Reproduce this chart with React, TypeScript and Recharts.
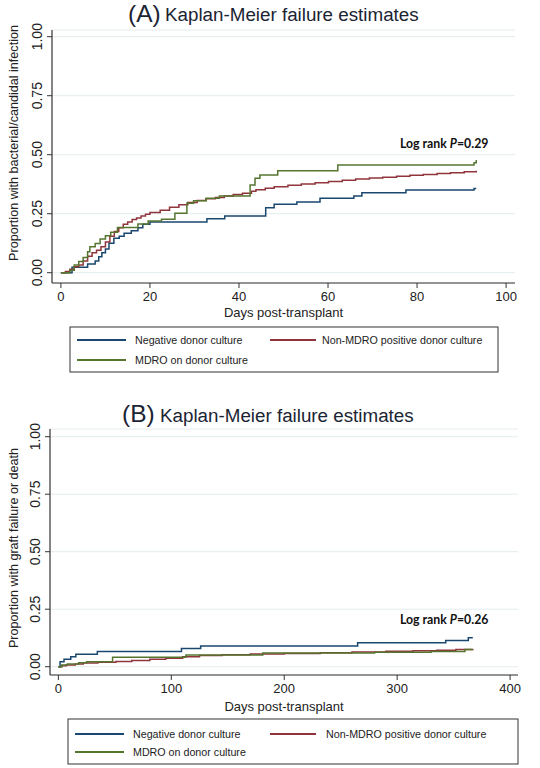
import React from 'react';
import { LineChart, Line, XAxis, YAxis, CartesianGrid } from 'recharts';

// ---------- Panel A: bacterial/candidal infection (days 0-93) ----------
const negDaysA = [0, 2.5, 6, 7.7, 8.5, 9.2, 10, 10.8, 11.9, 13.1, 14.2, 15.8, 17.3, 18.4, 20, 32.8, 36.8, 46, 47.9, 53, 58.2, 65.8, 67.6, 77.5, 92.8, 93.3];
const negValsA = [0, 0.023, 0.037, 0.05, 0.068, 0.085, 0.1, 0.125, 0.146, 0.155, 0.167, 0.178, 0.19, 0.205, 0.215, 0.229, 0.24, 0.275, 0.29, 0.3, 0.315, 0.325, 0.339, 0.35, 0.357, 0.357];

const nonDaysA = [0, 1, 2, 3, 4, 5, 6, 7, 8, 9, 10, 11, 12, 13, 14, 15, 16, 17, 18, 19, 20, 22.3, 24.4, 26.5, 28.5, 30.6, 32.6, 34.7, 36.7, 38.7, 40.8, 42.8, 43.8, 45.9, 47.9, 51, 54, 57.1, 60.1, 63.2, 66.2, 69.3, 72.3, 75.4, 78.4, 81.4, 84.5, 87.5, 90.6, 93.3];
const nonValsA = [0, 0.005, 0.015, 0.025, 0.033, 0.05, 0.07, 0.085, 0.095, 0.11, 0.13, 0.155, 0.175, 0.19, 0.205, 0.215, 0.225, 0.232, 0.24, 0.248, 0.255, 0.265, 0.277, 0.288, 0.298, 0.306, 0.313, 0.319, 0.325, 0.331, 0.337, 0.345, 0.352, 0.358, 0.364, 0.371, 0.376, 0.381, 0.386, 0.392, 0.397, 0.401, 0.405, 0.409, 0.413, 0.416, 0.42, 0.424, 0.428, 0.432];

const mdroDaysA = [0, 2, 3, 4, 5, 6, 6.5, 7.7, 8.8, 10, 11.2, 12.7, 17.3, 19.6, 22.6, 25.6, 28.3, 29.8, 32.6, 35.6, 42.5, 43.6, 44.7, 48.7, 62.2, 92.8, 93.3];
const mdroValsA = [0, 0.01, 0.033, 0.047, 0.064, 0.089, 0.11, 0.124, 0.143, 0.157, 0.171, 0.192, 0.206, 0.219, 0.227, 0.252, 0.294, 0.305, 0.315, 0.325, 0.372, 0.4, 0.414, 0.432, 0.456, 0.466, 0.478];

// ---------- Panel B: graft failure or death (days 0-367) ----------
const negDaysB = [0, 1.5, 5, 11, 15.5, 34.5, 109, 126, 265, 343, 363, 367];
const negValsB = [0, 0.022, 0.032, 0.043, 0.054, 0.066, 0.079, 0.09, 0.104, 0.114, 0.126, 0.126];

const nonDaysB = [0, 3, 7, 15, 22, 35, 51, 65, 81, 95, 110, 125, 145, 170, 200, 232, 260, 290, 314, 335, 352, 367];
const nonValsB = [0, 0.004, 0.008, 0.012, 0.016, 0.019, 0.023, 0.027, 0.032, 0.037, 0.043, 0.049, 0.052, 0.055, 0.058, 0.061, 0.064, 0.067, 0.069, 0.072, 0.075, 0.077];

const mdroDaysB = [0, 3, 8, 18, 25, 48, 113, 181, 280, 330, 360, 367];
const mdroValsB = [0, 0.007, 0.012, 0.017, 0.022, 0.041, 0.051, 0.06, 0.063, 0.066, 0.075, 0.075];

// ---------- Axis ticks & labels ----------
const yTicks = [0, 0.25, 0.5, 0.75, 1];
const xTicksA = [0, 20, 40, 60, 80, 100];
const xTicksB = [0, 100, 200, 300, 400];
const seriesNames = ['Negative donor culture', 'Non-MDRO positive donor culture', 'MDRO on donor culture'];
const colors = ['#1a476f', '#90353b', '#55752f'];

const toData = (t: number[], v: number[]) => t.map((d, i) => ({ day: d, p: v[i] }));

const FONT = '"Liberation Sans", Arial, Helvetica, sans-serif';
const AXIS = '#333';

const RotTick = (props: any) => {
  const { x, y, payload } = props;
  return (
    <text x={x} y={y} transform={`rotate(-90 ${x} ${y})`} textAnchor="middle" fontSize={14} fill="#222" fontFamily={FONT}>
      {Number(payload.value).toFixed(2)}
    </text>
  );
};

type PanelProps = {
  series: { t: number[]; v: number[] }[];
  width: number;
  height: number;
  margin: { top: number; right: number; bottom: number; left: number };
  yAxisWidth: number;
  xDomain: [number, number];
  yDomain: [number, number];
  xTicks: number[];
  labelOffset: number;
};

const Panel = ({ series, width, height, margin, yAxisWidth, xDomain, yDomain, xTicks, labelOffset }: PanelProps) => (
  <LineChart width={width} height={height} margin={margin}>
    <CartesianGrid horizontal vertical={false} stroke="#e4ecef" strokeWidth={1} />
    <XAxis
      type="number"
      dataKey="day"
      domain={xDomain}
      ticks={xTicks}
      allowDataOverflow
      height={40}
      tickSize={5}
      tickMargin={4}
      axisLine={{ stroke: AXIS, strokeWidth: 1.2 }}
      tickLine={{ stroke: AXIS, strokeWidth: 1 }}
      tick={{ fontSize: 13, fill: '#222', fontFamily: FONT }}
      label={{ value: 'Days post-transplant', position: 'insideBottom', offset: labelOffset, fontSize: 13, fill: '#222', fontFamily: FONT }}
    />
    <YAxis
      type="number"
      domain={yDomain}
      ticks={yTicks}
      allowDataOverflow
      width={yAxisWidth}
      tickSize={5}
      tickMargin={5}
      axisLine={{ stroke: AXIS, strokeWidth: 1.2 }}
      tickLine={{ stroke: AXIS, strokeWidth: 1 }}
      tick={<RotTick />}
    />
    {series.map((s, i) => (
      <Line
        key={i}
        data={toData(s.t, s.v)}
        dataKey="p"
        name={seriesNames[i]}
        type="stepAfter"
        stroke={colors[i]}
        strokeWidth={1.5}
        dot={false}
        isAnimationActive={false}
      />
    ))}
  </LineChart>
);

const LegendBox = ({ x, y, w, h, row1, row2, col2Line, col2Text }: any) => (
  <g fontFamily={FONT} fontSize={10.7} fill="#222">
    <rect x={x} y={y} width={w} height={h} fill="#fff" stroke="#333" strokeWidth={1} />
    <line x1={x + 7} x2={x + 56} y1={row1} y2={row1} stroke={colors[0]} strokeWidth={2} />
    <text x={x + 65} y={row1 + 4}>{seriesNames[0]}</text>
    <line x1={col2Line} x2={col2Line + 46} y1={row1} y2={row1} stroke={colors[1]} strokeWidth={2} />
    <text x={col2Text} y={row1 + 4}>{seriesNames[1]}</text>
    <line x1={x + 7} x2={x + 56} y1={row2} y2={row2} stroke={colors[2]} strokeWidth={2} />
    <text x={x + 65} y={row2 + 4}>{seriesNames[2]}</text>
  </g>
);

export default function App() {
  return (
    <div style={{ position: 'absolute', left: 0, top: 0, width: 540, height: 768, background: '#fff', fontFamily: FONT, overflow: 'hidden' }}>
      <div style={{ position: 'absolute', left: 0, top: 0 }}>
        <Panel
          series={[{ t: negDaysA, v: negValsA }, { t: nonDaysA, v: nonValsA }, { t: mdroDaysA, v: mdroValsA }]}
          width={540}
          height={323}
          margin={{ top: 30, right: 25, bottom: 0, left: 0 }}
          yAxisWidth={52}
          xDomain={[-2, 102]}
          yDomain={[-0.0436, 1.0284]}
          xTicks={xTicksA}
          labelOffset={6}
        />
      </div>
      <div style={{ position: 'absolute', left: 0, top: 400 }}>
        <Panel
          series={[{ t: negDaysB, v: negValsB }, { t: nonDaysB, v: nonValsB }, { t: mdroDaysB, v: mdroValsB }]}
          width={540}
          height={315}
          margin={{ top: 29, right: 22, bottom: 0, left: 0 }}
          yAxisWidth={50}
          xDomain={[-7.4, 407]}
          yDomain={[-0.036, 1.0335]}
          xTicks={xTicksB}
          labelOffset={4}
        />
      </div>
      <svg width={540} height={768} style={{ position: 'absolute', left: 0, top: 0, pointerEvents: 'none' }}>
        {/* Titles */}
        <text x={128} y={22} fontSize={24.5} fill="#1b2433" fontFamily={FONT}>(A)</text>
        <text x={165} y={21} fontSize={18.8} fill="#1b2433" fontFamily={FONT}>Kaplan-Meier failure estimates</text>
        <text x={122} y={422} fontSize={24.5} fill="#1b2433" fontFamily={FONT}>(B)</text>
        <text x={160} y={421.5} fontSize={18.8} fill="#1b2433" fontFamily={FONT}>Kaplan-Meier failure estimates</text>
        {/* Y axis titles */}
        <text x={18} y={143} transform="rotate(-90 18 143)" textAnchor="middle" fontSize={12.6} fill="#222" fontFamily={FONT}>
          Proportion with bacterial/candidal infection
        </text>
        <text x={18} y={548} transform="rotate(-90 18 548)" textAnchor="middle" fontSize={12.6} fill="#222" fontFamily={FONT}>
          Proportion with graft failure or death
        </text>
        {/* Log rank annotations */}
        <text x={400} y={148} fontSize={12.3} fontWeight="bold" fill="#111" fontFamily="Lato, 'Open Sans', sans-serif">
          Log rank <tspan fontStyle="italic">P</tspan>=0.29
        </text>
        <text x={400} y={624} fontSize={12.3} fontWeight="bold" fill="#111" fontFamily="Lato, 'Open Sans', sans-serif">
          Log rank <tspan fontStyle="italic">P</tspan>=0.26
        </text>
        {/* Legends */}
        <LegendBox x={70} y={327} w={428} h={45} row1={340} row2={360} col2Line={270} col2Text={322} />
        <LegendBox x={68} y={719} w={450} h={45} row1={734} row2={752} col2Line={270} col2Text={326} />
      </svg>
    </div>
  );
}
